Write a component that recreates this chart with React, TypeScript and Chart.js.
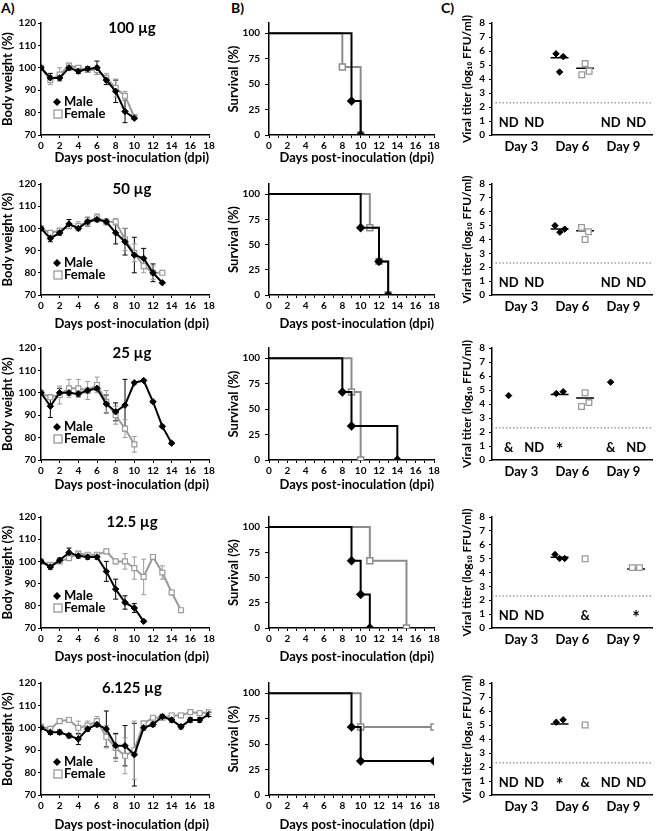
import React, { useEffect, useRef } from 'react';
import { Chart, registerables } from 'chart.js';

Chart.register(...registerables);

const FONT = 'Lato, "Open Sans", "DejaVu Sans", sans-serif';
Chart.defaults.font.family = FONT;
Chart.defaults.font.weight = 'bold';
Chart.defaults.color = '#000';

// ---------------- Data ----------------
const DOSES = ['100 µg', '50 µg', '25 µg', '12.5 µg', '6.125 µg'];
const SURVIVAL_TICKS = [0, 25, 50, 75, 100];
const DAY_GROUPS = ['Day 3', 'Day 6', 'Day 9'];
const DAY_GROUP_CENTERS = [0.5, 2.5, 4.5];
const LOD = 2.3;
const ND_LEVEL = 0.85;

// A) body weight (% of day 0), mean and SD per day
const W100_MALE = [100, 95.5, 95.5, 100, 98.5, 99.5, 100, 94.5, 89.5, 80.5, 77.5];
const W100_MALE_SD = [0, 2, 1, 1, 1, 1, 3, 2, 5, 5, 0.5];
const W100_FEMALE = [100, 94.5, 97, 101, 100, 99, 99, 95.5, 91, 87.5, 78];
const W100_FEMALE_SD = [0, 2, 3, 1, 1, 1, 2, 2, 4, 2, 1];

const W50_MALE = [100, 95.5, 98, 102, 100, 103, 104, 103, 98, 94, 88, 86.5, 80, 75.5];
const W50_MALE_SD = [0, 1.5, 1, 2, 1, 2, 1, 1, 5, 6, 8, 4.5, 4, 0];
const W50_FEMALE = [100, 98, 99, 101, 101, 103, 105, 103, 103, 95, 89, 83, 80, 80];
const W50_FEMALE_SD = [0, 1, 1, 1, 2, 2, 1.5, 1.5, 1.5, 5, 4, 3, 3, 0.5];

const W25_MALE = [100, 94, 100, 100, 99.5, 101, 102, 95, 91.5, 94.5, 104.5, 105.5, 96, 85, 77.5];
const W25_MALE_SD = [0, 5, 2, 1, 1, 1, 1, 4, 4, 11.5, 0.5, 0.5, 0.5, 0.5, 0.5];
const W25_FEMALE = [100, 98, 99, 102, 102, 101, 103.5, 96, 90, 84, 77];
const W25_FEMALE_SD = [0, 1, 4, 4, 4, 4, 3.5, 5, 4, 4, 3.5];

const W12_MALE = [100, 97.5, 100.5, 104, 102.5, 102, 102, 95.5, 87.5, 81.5, 79, 73];
const W12_MALE_SD = [0, 1, 1, 2, 1, 1, 1, 4.5, 4.5, 3, 2, 0.5];
const W12_FEMALE = [100, 98.5, 100, 101.5, 103.5, 103, 103, 104.5, 100, 100, 97, 93, 102, 95, 86, 78];
const W12_FEMALE_SD = [0, 1, 1, 1, 1, 1, 1, 1, 1, 3.5, 5, 8, 1, 3, 1, 0.5];

const W6_MALE = [100, 98, 98, 96.5, 95, 99.5, 101.5, 99.5, 92, 92, 88, 100, 101.5, 105, 103.5, 100.5, 103.5, 103.5, 106];
const W6_MALE_SD = [0, 1, 1, 1, 2.5, 1, 1, 8, 5.5, 9, 14, 1, 1, 1, 1, 1, 1, 1, 1];
const W6_FEMALE = [100.5, 99.5, 103, 103.5, 100, 101, 103, 96, 91, 87.5, 90, 102, 104.5, 104.5, 105.5, 105.5, 107, 106.5, 107];
const W6_FEMALE_SD = [0, 1, 1, 1, 3, 2, 2, 5, 6, 8, 13, 1, 1, 1, 1, 1, 1, 1, 1];

// B) survival (Kaplan-Meier steps)
const S100_MALE_DAYS = [0, 9, 10];
const S100_MALE_PCT = [100, 33.3, 0];
const S100_FEMALE_DAYS = [0, 8, 10];
const S100_FEMALE_PCT = [100, 66.7, 0];

const S50_MALE_DAYS = [0, 10, 12, 13];
const S50_MALE_PCT = [100, 66.7, 33.3, 0];
const S50_FEMALE_DAYS = [0, 11, 12, 13];
const S50_FEMALE_PCT = [100, 66.7, 33.3, 0];

const S25_MALE_DAYS = [0, 8, 9, 14];
const S25_MALE_PCT = [100, 66.7, 33.3, 0];
const S25_FEMALE_DAYS = [0, 9, 10];
const S25_FEMALE_PCT = [100, 66.7, 0];

const S12_MALE_DAYS = [0, 9, 10, 11];
const S12_MALE_PCT = [100, 66.7, 33.3, 0];
const S12_FEMALE_DAYS = [0, 11, 15];
const S12_FEMALE_PCT = [100, 66.7, 0];

const S6_MALE_DAYS = [0, 9, 10, 18];
const S6_MALE_PCT = [100, 66.7, 33.3, 33.3];
const S6_FEMALE_DAYS = [0, 10, 18];
const S6_FEMALE_PCT = [100, 66.7, 66.7];

// C) viral titer (log10 FFU/ml); slots: D3-M, D3-F, D6-M, D6-F, D9-M, D9-F
const T100_MALE_SLOT = [1.86, 2.14, 2.0];
const T100_MALE_LOG = [5.8, 5.6, 4.5];
const T100_FEMALE_SLOT = [3.0, 3.16, 2.87];
const T100_FEMALE_LOG = [5.1, 4.55, 4.3];
const T100_MEAN = [null, null, 5.52, 4.77, null, null];
const T100_NOTE = ['ND', 'ND', '', '', 'ND', 'ND'];

const T50_MALE_SLOT = [1.82, 2.01, 2.2];
const T50_MALE_LOG = [5.0, 4.53, 4.75];
const T50_FEMALE_SLOT = [2.86, 3.13, 3.0];
const T50_FEMALE_LOG = [4.87, 4.56, 4.0];
const T50_MEAN = [null, null, 4.75, 4.63, null, null];
const T50_NOTE = ['ND', 'ND', '', '', 'ND', 'ND'];

const T25_MALE_SLOT = [0, 1.87, 2.14, 4.0];
const T25_MALE_LOG = [4.6, 4.75, 4.88, 5.56];
const T25_FEMALE_SLOT = [2.86, 3.15, 3.0];
const T25_FEMALE_LOG = [3.82, 4.1, 4.8];
const T25_MEAN = [null, null, 4.68, 4.42, null, null];
const T25_NOTE = ['&', 'ND', '*', '', '&', 'ND'];

const T12_MALE_SLOT = [1.82, 2.0, 2.2];
const T12_MALE_LOG = [5.3, 5.01, 5.01];
const T12_FEMALE_SLOT = [3.0, 4.85, 5.13];
const T12_FEMALE_LOG = [4.99, 4.35, 4.35];
const T12_MEAN = [null, null, 5.1, null, null, 4.25];
const T12_NOTE = ['ND', 'ND', '', '&', '', '*'];

const T6_MALE_SLOT = [1.87, 2.14];
const T6_MALE_LOG = [5.2, 5.37];
const T6_FEMALE_SLOT = [3.0];
const T6_FEMALE_LOG = [5.0];
const T6_MEAN = [null, null, 5.08, null, null, null];
const T6_NOTE = ['ND', 'ND', '*', '&', 'ND', 'ND'];

const WEIGHT_ROWS = [
  { male: W100_MALE, maleSd: W100_MALE_SD, female: W100_FEMALE, femaleSd: W100_FEMALE_SD },
  { male: W50_MALE, maleSd: W50_MALE_SD, female: W50_FEMALE, femaleSd: W50_FEMALE_SD },
  { male: W25_MALE, maleSd: W25_MALE_SD, female: W25_FEMALE, femaleSd: W25_FEMALE_SD },
  { male: W12_MALE, maleSd: W12_MALE_SD, female: W12_FEMALE, femaleSd: W12_FEMALE_SD },
  { male: W6_MALE, maleSd: W6_MALE_SD, female: W6_FEMALE, femaleSd: W6_FEMALE_SD },
];
const SURV_ROWS = [
  { md: S100_MALE_DAYS, mp: S100_MALE_PCT, fd: S100_FEMALE_DAYS, fp: S100_FEMALE_PCT },
  { md: S50_MALE_DAYS, mp: S50_MALE_PCT, fd: S50_FEMALE_DAYS, fp: S50_FEMALE_PCT },
  { md: S25_MALE_DAYS, mp: S25_MALE_PCT, fd: S25_FEMALE_DAYS, fp: S25_FEMALE_PCT },
  { md: S12_MALE_DAYS, mp: S12_MALE_PCT, fd: S12_FEMALE_DAYS, fp: S12_FEMALE_PCT },
  { md: S6_MALE_DAYS, mp: S6_MALE_PCT, fd: S6_FEMALE_DAYS, fp: S6_FEMALE_PCT },
];
const TITER_ROWS = [
  { ms: T100_MALE_SLOT, ml: T100_MALE_LOG, fs: T100_FEMALE_SLOT, fl: T100_FEMALE_LOG, mean: T100_MEAN, note: T100_NOTE },
  { ms: T50_MALE_SLOT, ml: T50_MALE_LOG, fs: T50_FEMALE_SLOT, fl: T50_FEMALE_LOG, mean: T50_MEAN, note: T50_NOTE },
  { ms: T25_MALE_SLOT, ml: T25_MALE_LOG, fs: T25_FEMALE_SLOT, fl: T25_FEMALE_LOG, mean: T25_MEAN, note: T25_NOTE },
  { ms: T12_MALE_SLOT, ml: T12_MALE_LOG, fs: T12_FEMALE_SLOT, fl: T12_FEMALE_LOG, mean: T12_MEAN, note: T12_NOTE },
  { ms: T6_MALE_SLOT, ml: T6_MALE_LOG, fs: T6_FEMALE_SLOT, fl: T6_FEMALE_LOG, mean: T6_MEAN, note: T6_NOTE },
];

// ---------------- Layout ----------------
const ROW_TOP = [23, 184, 348, 517, 683];
const ROW_BOTTOM = [135, 295, 460, 628, 795];
const XTITLE_OFFSET = [22, 28, 24, 28, 29];
const BLACK = '#000000';
const GREY = '#9a9a9a';

type Box = { x: number; y: number; w: number; h: number; padTop: number; padRight: number; yW: number; xH: number };

function rowBox(r: number, x: number, w: number, yW: number, padRight: number, xH: number, padTop: number): Box {
  const y = ROW_TOP[r] - padTop;
  const h = padTop + (ROW_BOTTOM[r] - ROW_TOP[r]) + xH;
  return { x, y, w, h, padTop, padRight, yW, xH };
}

const fixY = (w: number) => (s: any) => { s.width = w; s.paddingTop = 0; s.paddingBottom = 0; };
const fixX = (h: number) => (s: any) => { s.height = h; s.paddingLeft = 0; s.paddingRight = 0; };

const baseOptions = (box: Box) => ({
  responsive: false,
  animation: false,
  devicePixelRatio: 1,
  layout: { padding: { top: box.padTop, right: box.padRight, left: 0, bottom: 0 } },
  plugins: { legend: { display: false }, tooltip: { enabled: false } },
});

const axisGrid = (tl: number) => ({ display: true, drawOnChartArea: false, drawTicks: true, tickLength: tl, color: BLACK, lineWidth: 1 });
const axisBorder = { display: true, color: BLACK, width: 1.5 };

// ---------------- Plugins ----------------
const errorBars = {
  id: 'errorBars',
  beforeDatasetsDraw(chart: any) {
    const { ctx } = chart;
    const xs = chart.scales.x;
    const ys = chart.scales.y;
    chart.data.datasets.forEach((ds: any) => {
      const errs = ds.errors;
      if (!errs) return;
      ctx.save();
      ctx.strokeStyle = ds.errorColor;
      ctx.lineWidth = 1;
      ds.data.forEach((p: any, i: number) => {
        const e = errs[i];
        if (!e) return;
        const x = xs.getPixelForValue(p.x);
        const y1 = ys.getPixelForValue(p.y - e);
        const y2 = ys.getPixelForValue(p.y + e);
        ctx.beginPath();
        ctx.moveTo(x, y1); ctx.lineTo(x, y2);
        ctx.moveTo(x - 2.5, y1); ctx.lineTo(x + 2.5, y1);
        ctx.moveTo(x - 2.5, y2); ctx.lineTo(x + 2.5, y2);
        ctx.stroke();
      });
      ctx.restore();
    });
  },
};

function drawDiamond(ctx: any, x: number, y: number, r: number, color: string) {
  ctx.beginPath();
  ctx.moveTo(x, y - r); ctx.lineTo(x + r, y); ctx.lineTo(x, y + r); ctx.lineTo(x - r, y); ctx.closePath();
  ctx.fillStyle = color; ctx.fill();
}
function drawSquare(ctx: any, x: number, y: number, r: number, color: string) {
  ctx.fillStyle = '#fff';
  ctx.fillRect(x - r, y - r, 2 * r, 2 * r);
  ctx.strokeStyle = color; ctx.lineWidth = 1.3;
  ctx.strokeRect(x - r, y - r, 2 * r, 2 * r);
}

const weightOverlay = (title: string) => ({
  id: 'weightOverlay',
  afterDraw(chart: any) {
    const { ctx, chartArea } = chart;
    ctx.save();
    ctx.fillStyle = BLACK;
    ctx.textAlign = 'center';
    ctx.textBaseline = 'middle';
    ctx.font = `bold 15px ${FONT}`;
    ctx.fillText(title, chartArea.left + 91, chartArea.top + 5);
    const lx = chartArea.left + 16;
    drawDiamond(ctx, lx, chartArea.top + 79, 4, BLACK);
    drawSquare(ctx, lx + 1, chartArea.top + 91, 4, GREY);
    ctx.fillStyle = BLACK;
    ctx.textAlign = 'left';
    ctx.font = `bold 13px ${FONT}`;
    ctx.fillText('Male', lx + 7, chartArea.top + 79);
    ctx.fillText('Female', lx + 7, chartArea.top + 91);
    ctx.restore();
  },
});

const titerNotes = (notes: string[]) => ({
  id: 'titerNotes',
  afterDatasetsDraw(chart: any) {
    const { ctx } = chart;
    const xs = chart.scales.x;
    const ys = chart.scales.y;
    ctx.save();
    ctx.fillStyle = BLACK;
    ctx.textAlign = 'center';
    ctx.textBaseline = 'middle';
    notes.forEach((t, i) => {
      if (!t) return;
      ctx.font = t === '*' ? `bold 18px ${FONT}` : `bold 13px ${FONT}`;
      const y = ys.getPixelForValue(ND_LEVEL) + (t === '*' ? 2 : 0);
      ctx.fillText(t, xs.getPixelForValue(i), y);
    });
    ctx.restore();
  },
});

// ---------------- Configs ----------------
const tickFont = { size: 10, weight: 'bold' as const };
const titleFont = { size: 13, weight: 'bold' as const };

function weightConfig(r: number, box: Box) {
  const row = WEIGHT_ROWS[r];
  return {
    type: 'line',
    data: {
      datasets: [
        {
          label: 'Male',
          data: row.male.map((v, i) => ({ x: i, y: v })),
          errors: row.maleSd, errorColor: BLACK,
          borderColor: BLACK, backgroundColor: BLACK, borderWidth: 2,
          pointStyle: 'rectRot', pointRadius: 3.2, pointBackgroundColor: BLACK, pointBorderColor: BLACK, pointBorderWidth: 1,
        },
        {
          label: 'Female',
          data: row.female.map((v, i) => ({ x: i, y: v })),
          errors: row.femaleSd, errorColor: GREY,
          borderColor: GREY, backgroundColor: '#fff', borderWidth: 2,
          pointStyle: 'rect', pointRadius: 3.5, pointBackgroundColor: '#fff', pointBorderColor: GREY, pointBorderWidth: 1.2,
        },
      ],
    },
    options: {
      ...baseOptions(box),
      scales: {
        x: {
          type: 'linear', min: 0, max: 18, afterFit: fixX(box.xH),
          ticks: { stepSize: 2, font: tickFont, color: BLACK, padding: 2, maxRotation: 0 },
          grid: axisGrid(3), border: axisBorder,
          title: { display: true, align: 'end', text: 'Days post-inoculation (dpi)', font: titleFont, color: BLACK, padding: 0 },
        },
        y: {
          type: 'linear', min: 70, max: 120, afterFit: fixY(box.yW),
          ticks: { stepSize: 10, autoSkip: false, font: tickFont, color: BLACK, padding: 2 },
          grid: axisGrid(3), border: axisBorder,
          title: { display: true, text: 'Body weight (%)', font: titleFont, color: BLACK, padding: 0 },
        },
      },
    },
    plugins: [errorBars, weightOverlay(DOSES[r])],
  };
}

function survivalConfig(r: number, box: Box) {
  const row = SURV_ROWS[r];
  const radii = (n: number, rad: number) => Array.from({ length: n }, (_, i) => (i === 0 ? 0 : rad));
  return {
    type: 'line',
    data: {
      datasets: [
        {
          label: 'Male',
          data: row.md.map((d, i) => ({ x: d, y: row.mp[i] })),
          stepped: true, borderColor: BLACK, borderWidth: 2,
          pointStyle: 'rectRot', pointRadius: radii(row.md.length, 4.5), pointBackgroundColor: BLACK, pointBorderColor: BLACK, pointBorderWidth: 0.5,
        },
        {
          label: 'Female',
          data: row.fd.map((d, i) => ({ x: d, y: row.fp[i] })),
          stepped: true, borderColor: '#8c8c8c', borderWidth: 2,
          pointStyle: 'rect', pointRadius: radii(row.fd.length, 4.2), pointBackgroundColor: '#fff', pointBorderColor: '#8c8c8c', pointBorderWidth: 1.5,
        },
      ],
    },
    options: {
      ...baseOptions(box),
      scales: {
        x: {
          type: 'linear', min: 0, max: 18, afterFit: fixX(box.xH),
          ticks: { stepSize: 1, autoSkip: false, font: tickFont, color: BLACK, padding: 2, maxRotation: 0,
            callback: (v: number) => (v % 2 === 0 ? String(v) : '') },
          grid: axisGrid(3), border: axisBorder,
          title: { display: true, align: 'end', text: 'Days post-inoculation (dpi)', font: titleFont, color: BLACK, padding: 0 },
        },
        y: {
          type: 'linear', min: 0, max: 110, afterFit: fixY(box.yW),
          afterBuildTicks: (s: any) => { s.ticks = SURVIVAL_TICKS.map((v) => ({ value: v })); },
          ticks: { autoSkip: false, font: tickFont, color: BLACK, padding: 5 },
          grid: axisGrid(4), border: axisBorder,
          title: { display: true, text: 'Survival (%)', font: titleFont, color: BLACK, padding: 0 },
        },
      },
    },
    plugins: [],
  };
}

function titerConfig(r: number, box: Box) {
  const row = TITER_ROWS[r];
  const meanSets = row.mean
    .map((m, slot) => (m == null ? null : {
      type: 'line',
      data: [{ x: slot - 0.35, y: m }, { x: slot + 0.35, y: m }],
      borderColor: BLACK, borderWidth: 1.5, pointRadius: 0,
    }))
    .filter(Boolean);
  return {
    type: 'line',
    data: {
      datasets: [
        {
          label: 'Male', showLine: false,
          data: row.ms.map((s, i) => ({ x: s, y: row.ml[i] })),
          pointStyle: 'rectRot', pointRadius: 3.2, pointBackgroundColor: BLACK, pointBorderColor: BLACK, pointBorderWidth: 1,
        },
        {
          label: 'Female', showLine: false,
          data: row.fs.map((s, i) => ({ x: s, y: row.fl[i] })),
          pointStyle: 'rect', pointRadius: 4, pointBackgroundColor: '#fff', pointBorderColor: '#9a9a9a', pointBorderWidth: 1.3,
        },
        ...meanSets,
        {
          label: 'LOD',
          data: [{ x: -0.65, y: LOD }, { x: 5.65, y: LOD }],
          borderColor: '#a0a0a0', borderWidth: 1.5, borderDash: [1.5, 2], pointRadius: 0,
        },
      ],
    },
    options: {
      ...baseOptions(box),
      scales: {
        x: {
          type: 'linear', min: -0.65, max: 5.65, afterFit: fixX(box.xH),
          afterBuildTicks: (s: any) => { s.ticks = DAY_GROUP_CENTERS.map((v) => ({ value: v })); },
          ticks: { autoSkip: false, font: { size: 13, weight: 'bold' }, color: BLACK, padding: 4, maxRotation: 0,
            callback: (_v: number, i: number) => DAY_GROUPS[i] },
          grid: { display: false, drawTicks: false }, border: axisBorder,
        },
        y: {
          type: 'linear', min: 0, max: 8, afterFit: fixY(box.yW),
          ticks: { stepSize: 1, autoSkip: false, font: tickFont, color: BLACK, padding: 4 },
          grid: axisGrid(3), border: axisBorder,
          title: { display: true, text: 'Viral titer (log₁₀ FFU/ml)', font: { size: 12, weight: 'bold' }, color: BLACK, padding: { top: 20, bottom: 0 } },
        },
      },
    },
    plugins: [titerNotes(row.note)],
  };
}

// ---------------- Components ----------------
function ChartCanvas({ box, make }: { box: Box; make: () => any }) {
  const ref = useRef<HTMLCanvasElement | null>(null);
  useEffect(() => {
    const chart = new Chart(ref.current as HTMLCanvasElement, make());
    return () => chart.destroy();
  }, []);
  return (
    <canvas
      ref={ref}
      width={box.w}
      height={box.h}
      style={{ position: 'absolute', left: box.x, top: box.y, width: box.w, height: box.h }}
    />
  );
}

const labelStyle = (left: number): React.CSSProperties => ({
  position: 'absolute', left, top: 0, fontFamily: FONT, fontWeight: 'bold', fontSize: 14, lineHeight: '16px', color: '#000',
});

export default function App() {
  const rows = [0, 1, 2, 3, 4];
  return (
    <div style={{ position: 'absolute', left: 0, top: 0, width: 658, height: 831, background: '#fff', overflow: 'hidden' }}>
      <div style={labelStyle(1)}>A)</div>
      <div style={labelStyle(231)}>B)</div>
      <div style={labelStyle(441)}>C)</div>
      {rows.map((r) => {
        const aBox = rowBox(r, 0, 225, 41, 16, XTITLE_OFFSET[r] + 9, 12);
        const bBox = rowBox(r, 226, 220, 43, 12, XTITLE_OFFSET[r] + 9, 12);
        const cBox = rowBox(r, 440, 218, 52, 1, 24, 22);
        return (
          <React.Fragment key={r}>
            <ChartCanvas box={cBox} make={() => titerConfig(r, cBox)} />
            <ChartCanvas box={aBox} make={() => weightConfig(r, aBox)} />
            <ChartCanvas box={bBox} make={() => survivalConfig(r, bBox)} />
          </React.Fragment>
        );
      })}
    </div>
  );
}
